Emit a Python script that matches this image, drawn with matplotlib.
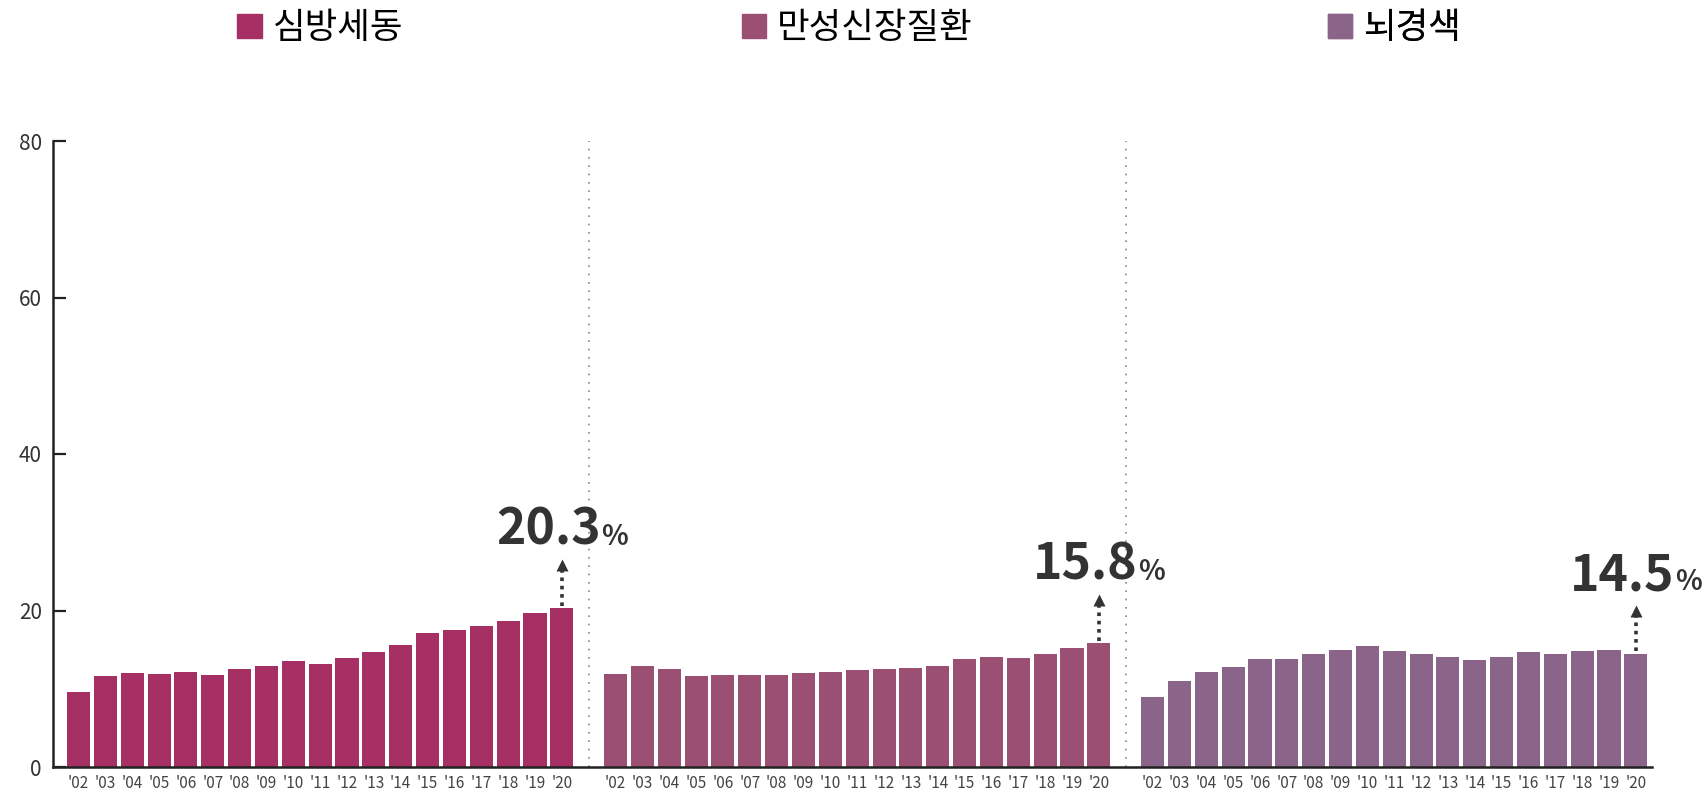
import numpy as np
import matplotlib
matplotlib.use('Agg')
import matplotlib.pyplot as plt
from matplotlib.patches import Patch
from matplotlib.offsetbox import TextArea, HPacker, AnnotationBbox

plt.rcParams['font.family'] = ['Noto Sans CJK KR', 'DejaVu Sans']

# 데이터
years = ["'02", "'03", "'04", "'05", "'06", "'07", "'08", "'09", "'10", "'11",
         "'12", "'13", "'14", "'15", "'16", "'17", "'18", "'19", "'20"]
names = ['심방세동', '만성신장질환', '뇌경색']
colors = ['#A63063', '#9B4F73', '#8B6589']
afib = [9.6, 11.6, 12.0, 11.85, 12.2, 11.7, 12.5, 12.9, 13.5, 13.1,
        13.9, 14.7, 15.6, 17.1, 17.5, 18.0, 18.6, 19.7, 20.3]
ckd = [11.85, 12.9, 12.5, 11.6, 11.7, 11.7, 11.7, 12.0, 12.1, 12.4,
       12.5, 12.6, 12.9, 13.8, 14.0, 13.9, 14.5, 15.2, 15.8]
stroke = [8.9, 11.0, 12.1, 12.75, 13.8, 13.8, 14.5, 14.9, 15.4, 14.8,
          14.5, 14.0, 13.65, 14.0, 14.7, 14.5, 14.8, 14.9, 14.5]
series = [afib, ckd, stroke]
yticks = [0, 20, 40, 60, 80]

fig = plt.figure(figsize=(17.04, 7.96), dpi=100)
ax = fig.add_axes([53 / 1704, 1 - 767 / 796, (1652 - 53) / 1704, (767 - 141) / 796])

xticks = []
xlabels = []
for i, vals in enumerate(series):
    x = np.arange(len(vals)) + 20 * i
    ax.bar(x, vals, width=0.86, color=colors[i], edgecolor='none', zorder=2)
    xticks += list(x)
    xlabels += years

    # 마지막 값 강조 (점선 화살표 + 큰 숫자)
    last = vals[-1]
    ax.plot([x[-1], x[-1]], [last + 0.3, last + 5.3], ls=(0, (1, 1.3)), lw=2.6,
            color='#333333', zorder=3)
    ax.plot(x[-1], last + 5.5, marker='^', ms=8, color='#333333', mec='none', zorder=3)
    num = TextArea(f'{last:.1f}', textprops=dict(fontsize=36, fontweight='bold', color='#333333'))
    pct = TextArea('%', textprops=dict(fontsize=20, fontweight='bold', color='#333333'))
    box = HPacker(children=[num, pct], align='baseline', pad=0, sep=0)
    ab = AnnotationBbox(box, (x[-1], last + 6.7), box_alignment=(0.5, 0), frameon=False,
                        pad=0, annotation_clip=False)
    ax.add_artist(ab)

    # 범례
    leg = ax.legend(handles=[Patch(color=colors[i])], labels=[names[i]],
                    loc='center', bbox_to_anchor=(((x[0] + x[-1]) / 2 + 0.95) / 59.55, 1.18),
                    frameon=False, fontsize=25.5, handlelength=0.7, handleheight=0.7,
                    handletextpad=0.3, borderpad=0, borderaxespad=0)
    ax.add_artist(leg)

# 구분 점선
for sx in [19, 39]:
    ax.axvline(sx, ymin=0, ymax=1, color='#888888', lw=1.2, ls=(0, (1, 4)), zorder=1)

ax.set_xlim(-0.95, 58.6)
ax.set_ylim(0, 80)
ax.set_yticks(yticks)
ax.set_xticks(xticks)
ax.set_xticklabels(xlabels, fontsize=11, color='#444444', fontweight='light')
ax.tick_params(axis='x', length=0, pad=6)
ax.tick_params(axis='y', direction='in', length=9.5, width=1.6, color='#222222',
               labelsize=15, labelcolor='#333333', pad=8)
for lab in ax.get_yticklabels():
    lab.set_fontweight('light')

for s in ['top', 'right']:
    ax.spines[s].set_visible(False)
for s in ['left', 'bottom']:
    ax.spines[s].set_linewidth(1.8)
    ax.spines[s].set_color('#222222')

fig.savefig('out.png', dpi=100)
